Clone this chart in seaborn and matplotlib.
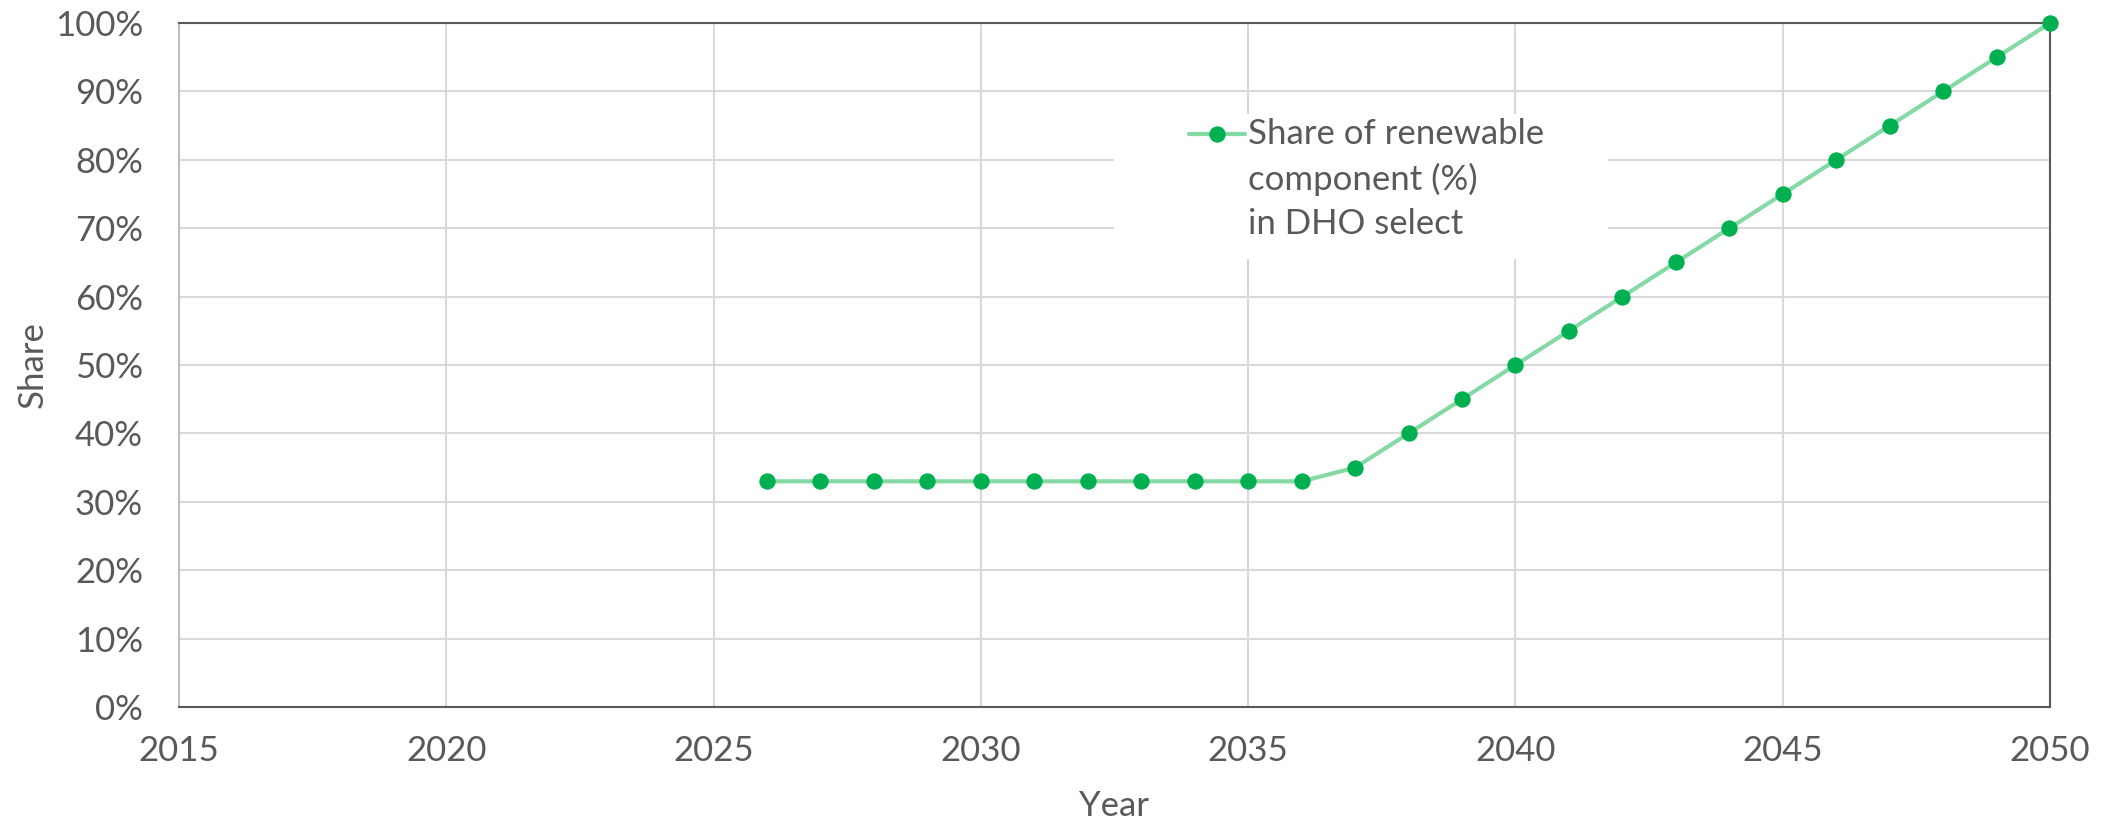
import numpy as np
import pandas as pd
import matplotlib
matplotlib.use("Agg")
import matplotlib.pyplot as plt
import seaborn as sns
from matplotlib.ticker import PercentFormatter
from matplotlib.legend_handler import HandlerLine2D
from matplotlib.patches import Rectangle

years = list(range(2026, 2051))
share = [0.33] * 11 + [0.35, 0.40, 0.45, 0.50, 0.55, 0.60, 0.65, 0.70,
                       0.75, 0.80, 0.85, 0.90, 0.95, 1.00]
x_ticks = [2015, 2020, 2025, 2030, 2035, 2040, 2045, 2050]
y_ticks = [0.0, 0.1, 0.2, 0.3, 0.4, 0.5, 0.6, 0.7, 0.8, 0.9, 1.0]
series_label = "Share of renewable\ncomponent (%)\nin DHO select"

df = pd.DataFrame({"Year": years, "Share": share})


# legend handle sits next to the first text line, like excel does it
class TopLine(HandlerLine2D):
    def __init__(self, shift, **kw):
        super().__init__(**kw)
        self.shift = shift

    def create_artists(self, legend, orig_handle, xdescent, ydescent,
                       width, height, fontsize, trans):
        arts = super().create_artists(legend, orig_handle, xdescent, ydescent,
                                      width, height, fontsize, trans)
        for a in arts:
            a.set_ydata(np.asarray(a.get_ydata()) + self.shift)
        return arts


sns.set_style("white")
plt.rcParams["font.family"] = ["Lato", "DejaVu Sans"]
text_col = "#595959"

fig = plt.figure(figsize=(21.06, 8.25), dpi=100)
ax = fig.add_axes([0.085, 0.143, 0.8884, 0.829])

sns.lineplot(data=df, x="Year", y="Share", ax=ax, color="#85D9A5",
             linewidth=3, marker="o", markersize=11,
             markerfacecolor="#00B050", markeredgecolor="#00B050",
             label=series_label, zorder=3, clip_on=False)

ax.set_xlim(2015, 2050)
ax.set_ylim(0, 1)
ax.set_xticks(x_ticks)
ax.set_yticks(y_ticks)
ax.yaxis.set_major_formatter(PercentFormatter(1.0, decimals=0))
ax.grid(True, color="#D9D9D9", linewidth=1.5)
ax.set_axisbelow(True)
ax.tick_params(axis="both", length=0, labelsize=25, labelcolor=text_col)
ax.tick_params(axis="y", pad=26)
ax.tick_params(axis="x", pad=20)

for side in ["top", "right", "bottom"]:
    ax.spines[side].set_color("#595959")
    ax.spines[side].set_linewidth(1.5)
ax.spines["left"].set_color("#BFBFBF")
ax.spines["left"].set_linewidth(1.5)

ax.set_xlabel("Year", fontsize=25, color=text_col, labelpad=17)
ax.set_ylabel("Share", fontsize=25, color=text_col, labelpad=4)

# white box behind the legend, hides the gridlines there
ax.add_patch(Rectangle((0.500, 0.655), 0.264, 0.212, transform=ax.transAxes,
                       facecolor="white", edgecolor="none", zorder=1.5))

line = ax.get_lines()[0]
leg = ax.legend(loc="upper left", bbox_to_anchor=(0.540, 0.861),
                frameon=False, fontsize=25, handlelength=1.6,
                handletextpad=0.1, borderpad=0, borderaxespad=0,
                handler_map={line: TopLine(shift=33)})
for t in leg.get_texts():
    t.set_color(text_col)
    t.set_linespacing(1.47)
leg.set_zorder(5)

fig.savefig("out.png", dpi=100)
